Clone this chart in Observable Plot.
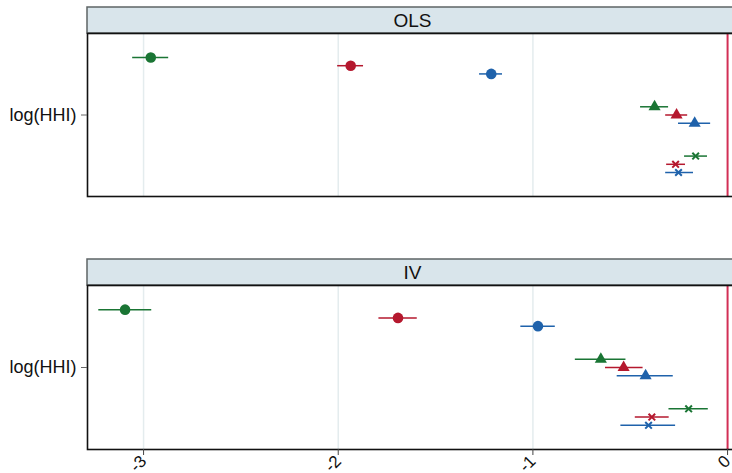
<!DOCTYPE html>
<html>
<head>
<meta charset="utf-8">
<script src="https://cdn.jsdelivr.net/npm/d3@7"></script>
<script src="https://cdn.jsdelivr.net/npm/@observablehq/plot@0.6"></script>
<style>
  html, body { margin: 0; padding: 0; background: #fff; overflow: hidden; }
  #chart { width: 745px; }
  #chart svg { display: block; max-width: none !important; }
</style>
</head>
<body>
<div id="chart"></div>
<script>
// Estimation methods, one panel each
const models = ["OLS", "IV"];
// Specifications (marker shape) and samples (colour)
const specs = ["circle", "triangle", "times"];
const samples = ["A", "B", "C"];
const sampleColors = ["#1a7534", "#b5182e", "#1f62ab"];
const yLabel = ["log(HHI)"];
const xTicks = [-3, -2, -1, 0];
const xTickLabels = ["-3", "-2", "-1", "0"];

// Coefficients and 95% intervals, ordered spec by spec, sample A/B/C within each
const olsEst = [-2.963, -1.936, -1.214, -0.375, -0.262, -0.169, -0.164, -0.267, -0.252];
const olsLo  = [-3.056, -2.003, -1.274, -0.447, -0.318, -0.252, -0.221, -0.313, -0.318];
const olsHi  = [-2.871, -1.870, -1.156, -0.303, -0.205, -0.087, -0.103, -0.216, -0.175];
const ivEst  = [-3.095, -1.693, -0.974, -0.651, -0.534, -0.421, -0.200, -0.389, -0.406];
const ivLo   = [-3.230, -1.791, -1.062, -0.782, -0.627, -0.567, -0.301, -0.474, -0.548];
const ivHi   = [-2.958, -1.594, -0.885, -0.522, -0.434, -0.279, -0.099, -0.300, -0.267];

const groupGap = 6; // rows between specification groups
function rows(est, lo, hi) {
  const out = [];
  specs.forEach((spec, s) => samples.forEach((sample, k) => {
    const i = s * samples.length + k;
    out.push({spec, sample, color: sampleColors[k], row: s * groupGap + k, est: est[i], lo: lo[i], hi: hi[i]});
  }));
  return out;
}
const panels = [
  {name: models[0], data: rows(olsEst, olsLo, olsHi)},
  {name: models[1], data: rows(ivEst, ivLo, ivHi)}
];
const lastRow = (specs.length - 1) * groupGap + samples.length - 1;
const yCenter = lastRow / 2;
const yPad = 2.92;
const yDomain = [-yPad, lastRow + yPad];

const font = "'Liberation Sans', Arial, sans-serif";
const stripH = 26;

// Header strip above the frame of each panel
function strip(label) {
  return [
    (index, scales, values, dims) => {
      const w = dims.width - dims.marginLeft - dims.marginRight;
      return d3.create("svg:rect")
        .attr("x", dims.marginLeft)
        .attr("y", dims.marginTop - stripH)
        .attr("width", w)
        .attr("height", stripH)
        .attr("fill", "#d9e5eb")
        .attr("stroke", "#5e6466")
        .attr("stroke-width", 1.5)
        .node();
    },
    Plot.text([label], {frameAnchor: "top", lineAnchor: "middle", dy: -stripH / 2, text: d => d, fill: "#111", fontSize: 19})
  ];
}

function panel(p, last) {
  const d = p.data;
  return Plot.plot({
    width: 745,
    height: last ? 250 : 240,
    marginLeft: 87,
    marginRight: 8,
    marginTop: last ? 45 : 33,
    marginBottom: last ? 41 : 44,
    style: {fontFamily: font, fontSize: "18px", background: "#fff", overflow: "visible", maxWidth: "none"},
    x: {domain: [-3.288, 0.051], axis: null},
    y: {domain: yDomain, reverse: true, axis: null},
    marks: [
      ...strip(p.name),
      Plot.gridX(xTicks.filter(v => v !== 0), {stroke: "#e4ecee", strokeOpacity: 1, strokeWidth: 1.5}),
      Plot.ruleX([0], {stroke: "#d22f55", strokeWidth: 2}),
      Plot.frame({stroke: "#111", strokeWidth: 1.6}),
      Plot.axisY([yCenter], {anchor: "left", label: null, tickSize: 6, tickPadding: 5, tickFormat: () => yLabel[0], stroke: "#666", fill: "#111"}),
      last ? Plot.axisX(xTicks, {anchor: "bottom", label: null, tickSize: 6, tickPadding: 3, tickRotate: -45, tickFormat: v => xTickLabels[xTicks.indexOf(v)], stroke: "#444", fill: "#111", fontSize: 17}) : null,
      Plot.ruleY(d, {y: "row", x1: "lo", x2: "hi", stroke: "color", strokeWidth: 1.5}),
      Plot.dot(d.filter(r => r.spec === "circle"), {x: "est", y: "row", r: 5.3, symbol: "circle", fill: "color"}),
      Plot.dot(d.filter(r => r.spec === "triangle"), {x: "est", y: "row", r: 4.5, symbol: "triangle", fill: "color"}),
      Plot.dot(d.filter(r => r.spec === "times"), {x: "est", y: "row", r: 3.1, symbol: "times", stroke: "color", strokeWidth: 2})
    ]
  });
}

const root = document.getElementById("chart");
panels.forEach((p, i) => root.appendChild(panel(p, i === panels.length - 1)));
</script>
</body>
</html>
